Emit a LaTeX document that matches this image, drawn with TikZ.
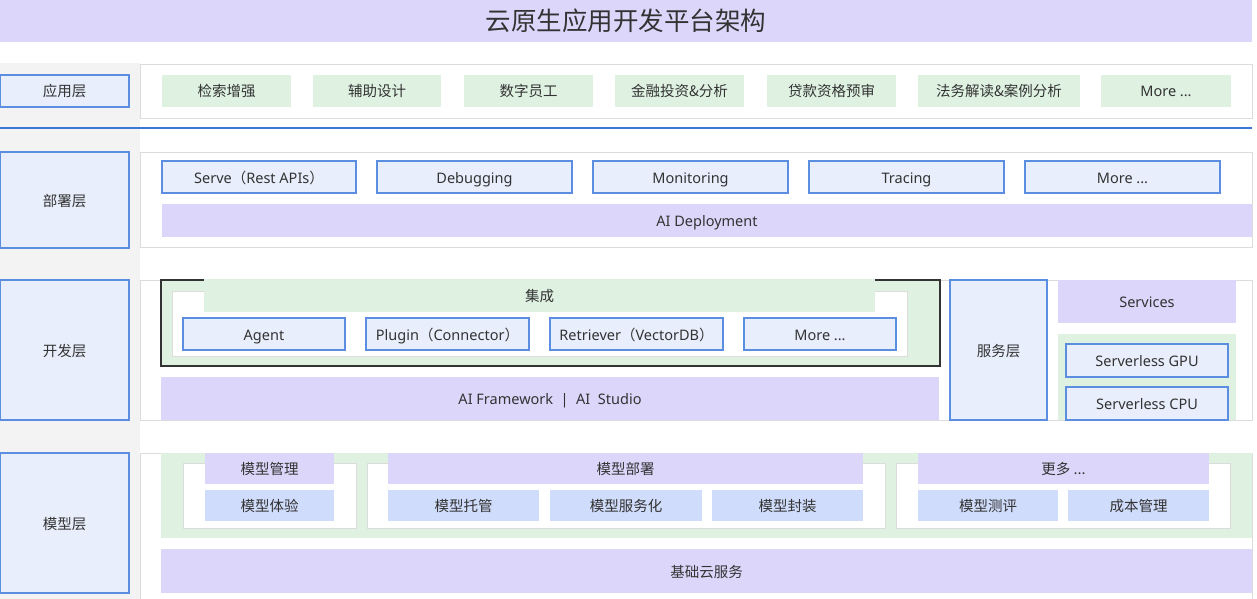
\documentclass[tikz,border=0pt]{standalone}
\usepackage{fontspec}
\setmainfont{Noto Sans CJK SC}
\newfontfamily\latinfont{Noto Sans}
\definecolor{lav}{HTML}{DCD6FB}
\definecolor{grn}{HTML}{DFF2E2}
\definecolor{lblue}{HTML}{E8EEFC}
\definecolor{bord}{HTML}{5B8EE0}
\definecolor{mblue}{HTML}{D0DCFB}
\definecolor{pgray}{HTML}{DCDCDC}
\definecolor{colgray}{HTML}{F3F3F3}
\definecolor{tgray}{HTML}{333333}
\definecolor{lineblue}{HTML}{3A78D8}
\newcommand\rbox[7]{\node[#1,anchor=north west,inner sep=0pt,outer sep=0pt,minimum width={(#5-#3)*1pt},minimum height={(#6-#4)*1pt}] (#2) at (#3,#4) {#7};}
\tikzset{
  txt/.style={text=tgray,font=\fontsize{14.5}{16}\selectfont,text height=13pt,text depth=1pt},
  lat/.style={font=\latinfont\fontsize{14.5}{16}\selectfont},
  lavbox/.style={fill=lav,txt},
  grnbox/.style={fill=grn,txt},
  bluebox/.style={fill=lblue,draw=bord,line width=1.1pt,txt},
  mbox/.style={fill=mblue,txt},
  panel/.style={fill=white,draw=pgray,line width=0.8pt},
  intbox/.style={fill=grn,draw=tgray,line width=1.3pt},
  whitebox/.style={fill=white,draw=pgray,line width=0.6pt},
}
\begin{document}
\begin{tikzpicture}[x=1pt,y=-1pt]
\useasboundingbox (0,0) rectangle (1257,599);
\fill[white] (0,0) rectangle (1257,599);
% left column
\fill[colgray] (0,63) rectangle (140,599);
% title
\rbox{fill=lav,text=tgray,font=\fontsize{25.5}{28}\selectfont}{title}{0}{0}{1252}{42}{云原生应用开发平台架构}
% ---------- app layer
\rbox{panel}{appP}{140}{64}{1252}{118}{}
\rbox{bluebox}{appL}{0}{75}{129}{107}{应用层}
\rbox{grnbox}{a1}{162}{75}{291}{107}{检索增强}
\rbox{grnbox}{a2}{313}{75}{441}{107}{辅助设计}
\rbox{grnbox}{a3}{464}{75}{593}{107}{数字员工}
\rbox{grnbox}{a4}{615}{75}{744}{107}{金融投资\&分析}
\rbox{grnbox}{a5}{767}{75}{896}{107}{贷款资格预审}
\rbox{grnbox}{a6}{918}{75}{1080}{107}{法务解读\&案例分析}
\rbox{grnbox,lat}{a7}{1101}{75}{1231}{107}{More ...}
\coordinate (lL) at (0,128);
\coordinate (lR) at (1252,128);
\draw[lineblue,line width=1.8pt] (lL) -- (lR);
% ---------- deploy layer
\rbox{panel}{depP}{140}{152}{1252}{247}{}
\rbox{bluebox}{depL}{0}{152}{129}{248}{部署层}
\rbox{bluebox}{d1}{162}{161}{356}{193}{{\latinfont Serve}（{\latinfont Rest APIs}）}
\rbox{bluebox,lat}{d2}{377}{161}{572}{193}{Debugging}
\rbox{bluebox,lat}{d3}{593}{161}{788}{193}{Monitoring}
\rbox{bluebox,lat}{d4}{809}{161}{1004}{193}{Tracing}
\rbox{bluebox,lat}{d5}{1025}{161}{1220}{193}{More ...}
\rbox{lavbox,lat}{dbar}{162}{204}{1252}{237}{AI Deployment}
% ---------- dev layer
\rbox{panel}{devP}{140}{280}{1252}{420}{}
\rbox{bluebox}{devL}{0}{280}{129}{420}{开发层}
\rbox{intbox}{intO}{161}{280}{940}{366}{}
\rbox{whitebox}{intI}{172}{291}{907}{356}{}
\rbox{grnbox}{intH}{204}{279.4}{875}{312}{集成}
\rbox{bluebox,lat}{v1}{183}{318}{345}{350}{Agent}
\rbox{bluebox}{v2}{366}{318}{529}{350}{{\latinfont Plugin}（{\latinfont Connector}）}
\rbox{bluebox}{v3}{550}{318}{723}{350}{{\latinfont Retriever}（{\latinfont VectorDB}）}
\rbox{bluebox,lat}{v4}{744}{318}{896}{350}{More ...}
\rbox{lavbox,lat}{fw}{161}{377}{939}{420}{AI Framework\ \ |\ \ AI\ \ Studio}
\rbox{bluebox}{svcL}{950}{280}{1047}{420}{服务层}
\rbox{lavbox,lat}{svc}{1058}{280}{1236}{323}{Services}
\rbox{grnbox}{svG}{1058}{334}{1236}{420}{}
\rbox{bluebox,lat}{gpu}{1066}{344}{1228}{377}{Serverless GPU}
\rbox{bluebox,lat}{cpu}{1066}{387}{1228}{420}{Serverless CPU}
% ---------- model layer
\rbox{panel}{modP}{140}{453}{1252}{599}{}
\rbox{bluebox}{modL}{0}{453}{129}{593}{模型层}
\rbox{grnbox}{mg}{161}{453}{1252}{538}{}
\rbox{whitebox}{w1}{183}{463}{356}{528}{}
\rbox{whitebox}{w2}{367}{463}{885}{528}{}
\rbox{whitebox}{w3}{896}{463}{1230}{528}{}
\rbox{lavbox}{m1}{205}{453}{334}{484}{模型管理}
\rbox{mbox}{m2}{205}{490}{334}{521}{模型体验}
\rbox{lavbox}{m3}{388}{453}{863}{484}{模型部署}
\rbox{mbox}{m4}{388}{490}{539}{521}{模型托管}
\rbox{mbox}{m5}{550}{490}{702}{521}{模型服务化}
\rbox{mbox}{m6}{712}{490}{863}{521}{模型封装}
\rbox{lavbox}{m7}{918}{453}{1209}{484}{更多 ...}
\rbox{mbox}{m8}{918}{490}{1058}{521}{模型测评}
\rbox{mbox}{m9}{1068}{490}{1209}{521}{成本管理}
\rbox{lavbox}{base}{161}{549}{1252}{593}{基础云服务}
\end{tikzpicture}
\end{document}
